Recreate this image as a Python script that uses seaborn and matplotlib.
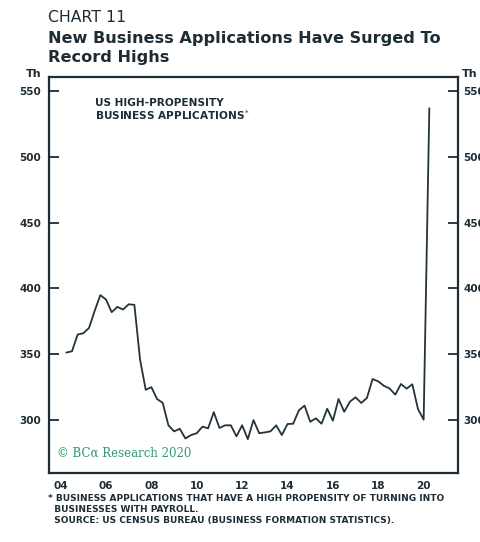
import numpy as np
import pandas as pd
import seaborn as sns
import matplotlib.pyplot as plt

# quarterly high-propensity business applications, thousands (2004Q3 .. 2020Q3)
applications = [351.3, 352.3, 365, 366, 370, 383, 395, 391.6, 382, 386, 384, 388, 387.6,
                346, 323, 325, 316, 313, 296, 291.4, 293.4, 286, 288.6, 290, 295, 293.7,
                306, 294, 296, 296, 287.6, 296, 285.5, 300, 290, 290.6, 291.4, 296, 288.6,
                297, 297.2, 307.4, 311, 298.7, 301.3, 297.2, 308.6, 299.5, 316, 306.3, 314,
                317.3, 313, 316.8, 331.2, 329.4, 326, 324, 319.3, 327.4, 323.9, 327.2,
                308.4, 300.3, 537]
quarters = pd.period_range("2004Q3", periods=len(applications), freq="Q")
year_labels = ["04", "06", "08", "10", "12", "14", "16", "18", "20"]
y_ticks = [300, 350, 400, 450, 500, 550]

df = pd.DataFrame({
    "t": quarters.year + quarters.quarter / 4,
    "apps": applications,
})

sns.set_style("white")
plt.rcParams["font.family"] = ["DejaVu Sans"]
ink = "#1d2c35"

fig = plt.figure(figsize=(4.8, 5.42), dpi=100)
ax = fig.add_axes([0.1027, 0.1279, 0.8508, 0.7306])
sns.lineplot(data=df, x="t", y="apps", ax=ax, color="#22333b", linewidth=1.3)

ax.set_xlim(2004, 2022)
ax.set_ylim(260, 561)
ax.set_xlabel("")
ax.set_ylabel("")

for s in ax.spines.values():
    s.set_visible(True)
    s.set_color(ink)
    s.set_linewidth(1.6)

# year boundary ticks, labels centred in the year
ax.set_xticks(np.arange(2005, 2022))
ax.set_xticklabels([])
ax.set_xticks([int("20" + y) + 0.5 for y in year_labels], minor=True)
ax.set_xticklabels(year_labels, minor=True, fontsize=7.5, fontweight="bold", color=ink)
ax.tick_params(axis="x", which="major", direction="in", length=7, width=1.3, color=ink)
ax.tick_params(axis="x", which="minor", length=0, pad=6)

ax.set_yticks(y_ticks)
ax.set_yticklabels(y_ticks, fontsize=7.5, fontweight="bold", color=ink)
ax.tick_params(axis="y", direction="in", length=7, width=1.3, color=ink, pad=6)

ax2 = ax.twinx()
ax2.set_ylim(ax.get_ylim())
ax2.set_yticks(y_ticks)
ax2.set_yticklabels(y_ticks, fontsize=7.5, fontweight="bold", color=ink)
ax2.tick_params(axis="y", direction="in", length=7, width=1.3, color=ink, pad=4)
for s in ax2.spines.values():
    s.set_visible(False)

ax.text(-0.02, 1.008, "Th", transform=ax.transAxes, ha="right", va="center",
        fontsize=8, fontweight="bold", color=ink)
ax.text(1.01, 1.008, "Th", transform=ax.transAxes, ha="left", va="center",
        fontsize=8, fontweight="bold", color=ink)

ax.text(0.112, 0.945, "US HIGH-PROPENSITY\nBUSINESS APPLICATIONS$^{*}$",
        transform=ax.transAxes, ha="left", va="top", fontsize=7.6, fontweight="bold",
        color=ink, linespacing=0.95)
ax.text(0.02, 0.05, "© BCα Research 2020", transform=ax.transAxes, ha="left",
        va="center", fontsize=8.5, color="#2f9b70", family="DejaVu Serif")

fig.text(0.1, 0.968, "CHART 11", fontsize=11.3, color=ink, va="center")
fig.text(0.1, 0.911, "New Business Applications Have Surged To\nRecord Highs",
         fontsize=11.6, fontweight="bold", color=ink, va="center", linespacing=1.3)

fig.text(0.1, 0.0885, "* BUSINESS APPLICATIONS THAT HAVE A HIGH PROPENSITY OF TURNING INTO\n"
         "  BUSINESSES WITH PAYROLL.\n"
         "  SOURCE: US CENSUS BUREAU (BUSINESS FORMATION STATISTICS).",
         fontsize=6.5, fontweight="bold", color=ink, va="top", linespacing=1.28)

plt.savefig("out.png", dpi=100)
